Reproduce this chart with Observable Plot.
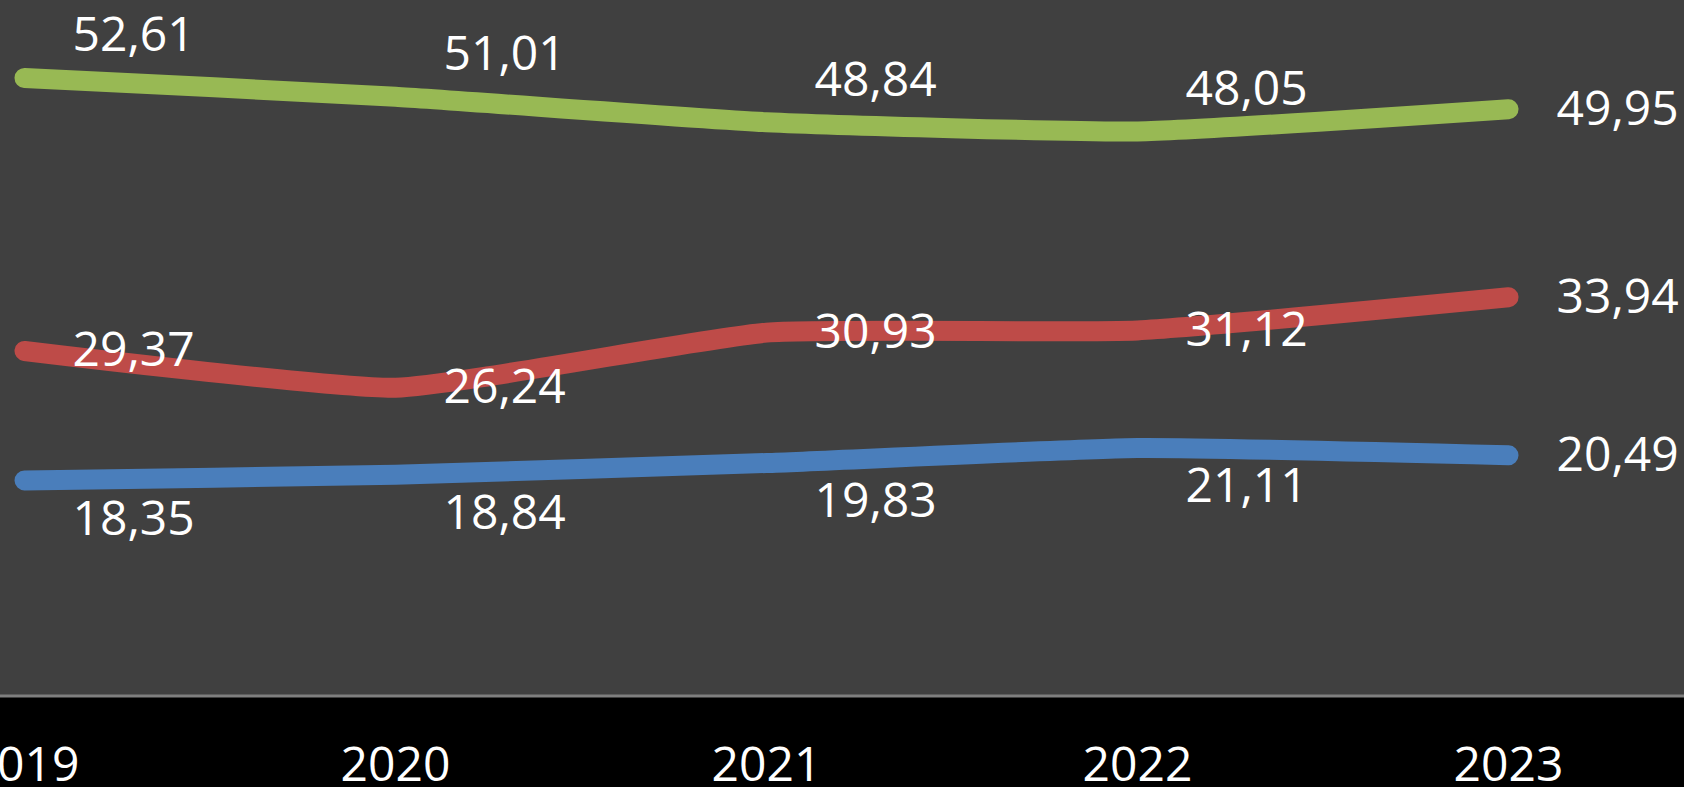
<!DOCTYPE html>
<html>
<head>
<meta charset="utf-8">
<script src="https://cdn.jsdelivr.net/npm/d3@7"></script>
<script src="https://cdn.jsdelivr.net/npm/@observablehq/plot@0.6"></script>
<style>
  html, body { margin: 0; padding: 0; background: #000; overflow: hidden; }
  #chart svg { display: block; }
</style>
</head>
<body>
<div id="chart"></div>
<script>
// ---- data ----
const years = ["2019", "2020", "2021", "2022", "2023"];
const seriesNames = ["Série 1", "Série 2", "Série 3"];
const series1 = [52.61, 51.01, 48.84, 48.05, 49.95];
const series2 = [29.37, 26.24, 30.93, 31.12, 33.94];
const series3 = [18.35, 18.84, 19.83, 21.11, 20.49];
const seriesColors = ["#98B954", "#BE4B48", "#4A7EBB"];

const allSeries = [series1, series2, series3];
const rows = allSeries.flatMap((vals, si) =>
  vals.map((v, i) => ({year: years[i], value: v, series: seriesNames[si], last: i === years.length - 1}))
);

const fmt = d3.formatLocale({decimal: ",", thousands: ".", grouping: [3], currency: ["", ""]}).format(".2f");

const W = 1684, H = 787;
const mL = 23, mR = 176, mT = 0, mB = 91.5;
const labelOffset = {[seriesNames[0]]: -42, [seriesNames[1]]: 0, [seriesNames[2]]: 39};

const labelMarks = seriesNames.flatMap(name => [
  Plot.text(rows.filter(d => d.series === name && !d.last), {
    x: "year", y: "value", text: d => fmt(d.value),
    textAnchor: "start", dx: 48, dy: labelOffset[name],
    fill: "#ffffff", fontSize: 48
  }),
  Plot.text(rows.filter(d => d.series === name && d.last), {
    x: "year", y: "value", text: d => fmt(d.value),
    textAnchor: "start", dx: 48, dy: 0,
    fill: "#ffffff", fontSize: 48
  })
]);

const chart = Plot.plot({
  width: W,
  height: H,
  marginLeft: mL,
  marginRight: mR,
  marginTop: mT,
  marginBottom: mB,
  style: {background: "#000", color: "#fff", fontFamily: "'Open Sans', sans-serif", fontSize: "48px", overflow: "hidden"},
  x: {type: "point", domain: years, padding: 0},
  y: {domain: [0, 59.2], axis: null},
  color: {domain: seriesNames, range: seriesColors},
  marks: [
    Plot.frame({fill: "#404040", stroke: null, insetLeft: -mL - 5, insetRight: -mR - 5, insetTop: -5}),
    Plot.ruleY([0], {stroke: "#7f7f7f", strokeWidth: 3, insetLeft: -mL - 5, insetRight: -mR - 5}),
    Plot.axisX({tickSize: 0, tickPadding: 51, fontSize: 48, fill: "#ffffff", label: null}),
    Plot.line(rows, {
      x: "year", y: "value", z: "series", stroke: "series",
      strokeWidth: 20, strokeLinecap: "round", strokeLinejoin: "round",
      curve: "cardinal", tension: 0.55
    }),
    ...labelMarks
  ]
});

document.getElementById("chart").appendChild(chart);
</script>
</body>
</html>
